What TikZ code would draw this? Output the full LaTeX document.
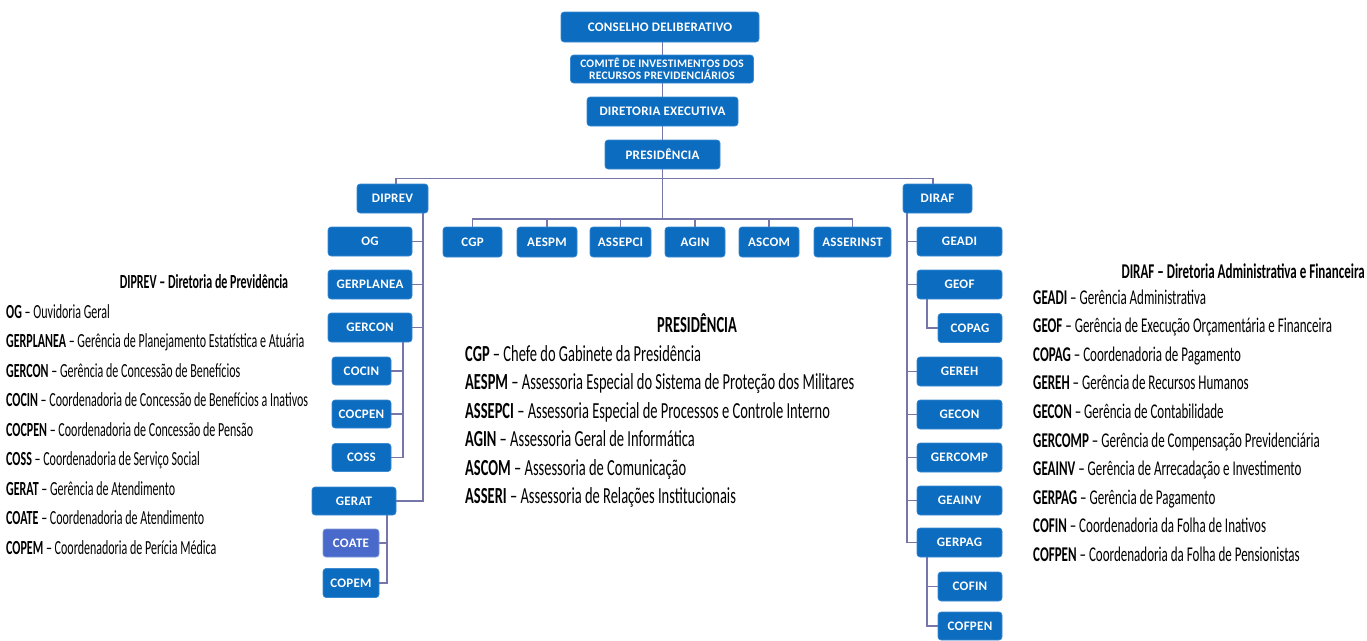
\documentclass[tikz,border=0pt]{standalone}
\usepackage{fontspec}
\setmainfont{Carlito}
\newfontfamily\legf[FakeStretch=0.62]{Carlito}
\newfontfamily\legl[FakeStretch=0.60]{Carlito}
\newfontfamily\legm[FakeStretch=0.63]{Carlito}
\newfontfamily\boxf[LetterSpace=2]{Carlito}
\usetikzlibrary{backgrounds}
\definecolor{boxblue}{HTML}{0B6CC0}
\definecolor{boxedge}{HTML}{3C8AD2}
\definecolor{coateblue}{HTML}{4A6ACB}
\definecolor{linec}{HTML}{7676A8}
\tikzset{
  box/.style={draw=boxedge, line width=0.6pt, fill=boxblue, rounded corners=3pt, text=white,
    font=\boxf\bfseries\fontsize{13}{13}\selectfont, inner sep=0pt, align=center},
  sz/.style 2 args={minimum width=#1, minimum height=#2},
  conn/.style={draw=linec, line width=1.6pt},
  leg/.style={anchor=base west, font=\legf\fontsize{21}{24}\selectfont, inner sep=0pt},
  legtitle/.style={anchor=base, font=\legf\bfseries\fontsize{21}{24}\selectfont, inner sep=0pt},
  legL/.style={leg, font=\legl\fontsize{20}{24}\selectfont},
  legM/.style={leg, font=\legm\fontsize{23}{26}\selectfont}
}
\begin{document}
\begin{tikzpicture}[x=1pt,y=-1pt]
\useasboundingbox (0,0) rectangle (1367,640);
% top chain
\node[box, sz={198pt}{30pt}] (cons) at (660,27) {CONSELHO DELIBERATIVO};
\node[box, sz={183pt}{28pt}, font=\boxf\bfseries\fontsize{11.5}{12.5}\selectfont] (comite) at (662,69) {COMITÊ DE INVESTIMENTOS DOS\\RECURSOS PREVIDENCIÁRIOS};
\node[box, sz={151pt}{29pt}] (direx) at (662.5,111.5) {DIRETORIA EXECUTIVA};
\node[box, sz={115pt}{29pt}] (pres) at (662.5,154.5) {PRESIDÊNCIA};
% directorates
\node[box, sz={71pt}{29pt}] (diprev) at (392.5,198.5) {DIPREV};
\node[box, sz={69pt}{29pt}] (diraf) at (937.5,198.5) {DIRAF};
% presidency row
\node[box, sz={59pt}{30pt}] (cgp) at (472.5,242) {CGP};
\node[box, sz={60pt}{30pt}] (aespm) at (547,242) {AESPM};
\node[box, sz={61pt}{30pt}] (assepci) at (620.5,242) {ASSEPCI};
\node[box, sz={60pt}{30pt}] (agin) at (695,242) {AGIN};
\node[box, sz={60pt}{30pt}] (ascom) at (769,242) {ASCOM};
\node[box, sz={77pt}{30pt}] (asserinst) at (852.5,242) {ASSERINST};
% left column
\node[box, sz={84pt}{29pt}] (og) at (370,241.5) {OG};
\node[box, sz={84pt}{29pt}] (gerplanea) at (370,284.5) {GERPLANEA};
\node[box, sz={84pt}{29pt}] (gercon) at (370,327.5) {GERCON};
\node[box, sz={59pt}{28pt}] (cocin) at (361.5,371) {COCIN};
\node[box, sz={59pt}{28pt}] (cocpen) at (361.5,414) {COCPEN};
\node[box, sz={59pt}{28pt}] (coss) at (361.5,457.5) {COSS};
\node[box, sz={84pt}{28pt}] (gerat) at (354,501) {GERAT};
\node[box, sz={56pt}{28pt}, fill=coateblue, draw=coateblue!70!white] (coate) at (351,543) {COATE};
\node[box, sz={56pt}{29pt}] (copem) at (351,583) {COPEM};
% right column
\node[box, sz={85pt}{29pt}] (geadi) at (959.5,241.5) {GEADI};
\node[box, sz={85pt}{29pt}] (geof) at (959.5,284.5) {GEOF};
\node[box, sz={64pt}{29pt}] (copag) at (970,328) {COPAG};
\node[box, sz={85pt}{29pt}] (gereh) at (959.5,371.5) {GEREH};
\node[box, sz={85pt}{29pt}] (gecon) at (959.5,414.5) {GECON};
\node[box, sz={85pt}{29pt}] (gercomp) at (959.5,457.5) {GERCOMP};
\node[box, sz={85pt}{29pt}] (geainv) at (959.5,500.5) {GEAINV};
\node[box, sz={85pt}{29pt}] (gerpag) at (959.5,542.5) {GERPAG};
\node[box, sz={64pt}{29pt}] (cofin) at (970,586.5) {COFIN};
\node[box, sz={64pt}{28pt}] (cofpen) at (970,626) {COFPEN};
% connectors
\begin{scope}[on background layer]
\draw[conn] (pres.north |- cons.south) -- (pres.north);
\draw[conn] (pres.south) -- ++(0,9) coordinate (bus);
\draw[conn] ([xshift=3.5pt]diprev.north) |- (bus) -| ([xshift=-4.5pt]diraf.north);
\coordinate (pb) at (662.5,219);
\draw[conn] (bus) -- (pb);
\draw[conn] (cgp.north) |- (pb) -| (asserinst.north);
\foreach \n in {aespm,assepci,agin,ascom} \draw[conn] (\n.north) -- (\n.north |- pb);
% left trunk
\coordinate (dl) at (423,213);
\draw[conn] (dl) |- (gerat.east);
\foreach \n in {og,gerplanea,gercon} \draw[conn] (\n.east) -- (\n.east -| dl);
\draw[conn] ([xshift=33pt]gercon.south) coordinate (gc) |- (coss.east);
\foreach \n in {cocin,cocpen} \draw[conn] (\n.east) -- (\n.east -| gc);
\draw[conn] ([xshift=33pt]gerat.south) coordinate (gt) |- (copem.east);
\draw[conn] (coate.east) -- (coate.east -| gt);
% right trunk
\draw[conn] ([xshift=-30.5pt]diraf.south) coordinate (dr) |- (gerpag.west);
\foreach \n in {geadi,geof,gereh,gecon,gercomp,geainv} \draw[conn] (\n.west) -- (\n.west -| dr);
\draw[conn] ([xshift=-32.5pt]geof.south) |- (copag.west);
\draw[conn] ([xshift=-32.5pt]gerpag.south) coordinate (gp) |- (cofpen.west);
\draw[conn] (cofin.west) -- (cofin.west -| gp);
\end{scope}
% left legend
\node[legtitle, font=\legl\bfseries\fontsize{20}{24}\selectfont] (tl) at (204,288) {DIPREV – Diretoria de Previdência};
\node[legL] (l1) at (6,318) {\textbf{OG} – Ouvidoria Geral};
\node[legL] (l2) at (6,347.5) {\textbf{GERPLANEA} – Gerência de Planejamento Estatística e Atuária};
\node[legL] (l3) at (6,377) {\textbf{GERCON} – Gerência de Concessão de Benefícios};
\node[legL] (l4) at (6,406.5) {\textbf{COCIN} – Coordenadoria de Concessão de Benefícios a Inativos};
\node[legL] (l5) at (6,436) {\textbf{COCPEN} – Coordenadoria de Concessão de Pensão};
\node[legL] (l6) at (6,465.5) {\textbf{COSS} – Coordenadoria de Serviço Social};
\node[legL] (l7) at (6,495) {\textbf{GERAT} – Gerência de Atendimento};
\node[legL] (l8) at (6,524.5) {\textbf{COATE} – Coordenadoria de Atendimento};
\node[legL] (l9) at (6,554) {\textbf{COPEM} – Coordenadoria de Perícia Médica};
% middle legend
\node[legtitle, font=\legm\bfseries\fontsize{23}{26}\selectfont] (tm) at (697,332) {PRESIDÊNCIA};
\node[legM] (m1) at (465,361) {\textbf{CGP} – Chefe do Gabinete da Presidência};
\node[legM] (m2) at (465,389.5) {\textbf{AESPM} – Assessoria Especial do Sistema de Proteção dos Militares};
\node[legM] (m3) at (465,418) {\textbf{ASSEPCI} – Assessoria Especial de Processos e Controle Interno};
\node[legM] (m4) at (465,446.5) {\textbf{AGIN} – Assessoria Geral de Informática};
\node[legM] (m5) at (465,475) {\textbf{ASCOM} – Assessoria de Comunicação};
\node[legM] (m6) at (465,503.5) {\textbf{ASSERI} – Assessoria de Relações Institucionais};
% right legend
\node[legtitle, anchor=base east] (tr) at (1365,278) {DIRAF – Diretoria Administrativa e Financeira};
\node[leg] (r1) at (1033,304) {\textbf{GEADI} – Gerência Administrativa};
\node[leg] (r2) at (1033,332.6) {\textbf{GEOF} – Gerência de Execução Orçamentária e Financeira};
\node[leg] (r3) at (1033,361.2) {\textbf{COPAG} – Coordenadoria de Pagamento};
\node[leg] (r4) at (1033,389.8) {\textbf{GEREH} – Gerência de Recursos Humanos};
\node[leg] (r5) at (1033,418.4) {\textbf{GECON} – Gerência de Contabilidade};
\node[leg] (r6) at (1033,447) {\textbf{GERCOMP} – Gerência de Compensação Previdenciária};
\node[leg] (r7) at (1033,475.6) {\textbf{GEAINV} – Gerência de Arrecadação e Investimento};
\node[leg] (r8) at (1033,504.2) {\textbf{GERPAG} – Gerência de Pagamento};
\node[leg] (r9) at (1033,532.8) {\textbf{COFIN} – Coordenadoria da Folha de Inativos};
\node[leg] (r10) at (1033,561.4) {\textbf{COFPEN} – Coordenadoria da Folha de Pensionistas};
\end{tikzpicture}
\end{document}
